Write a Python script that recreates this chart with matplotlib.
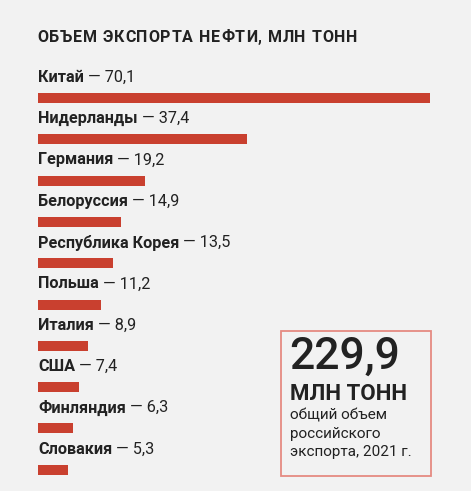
import matplotlib
matplotlib.use("Agg")
import matplotlib.pyplot as plt
from matplotlib.patches import Rectangle

countries = ["Китай", "Нидерланды", "Германия", "Белоруссия", "Республика Корея",
             "Польша", "Италия", "США", "Финляндия", "Словакия"]
values = [70.1, 37.4, 19.2, 14.9, 13.5, 11.2, 8.9, 7.4, 6.3, 5.3]
title = "ОБЪЕМ ЭКСПОРТА НЕФТИ, МЛН ТОНН"
total = "229,9"
total_unit = "МЛН ТОНН"
total_note = "общий объем\nроссийского\nэкспорта, 2021 г."

BG = "#f2f2f2"
RED = "#c9402f"
INK = "#222222"
FONT = ["Roboto", "DejaVu Sans"]
W, H = 471, 491

plt.rcParams["font.family"] = FONT
fig = plt.figure(figsize=(W / 100, H / 100), dpi=100, facecolor=BG)

# bar axes: 38..430 px wide, rows 41.3 px apart, first bar centred at y=98 px
step = 41.3
top = 98 - step
bottom = 98 + step * 9.5
ax = fig.add_axes([38 / W, 1 - bottom / H, (430 - 38) / W, (bottom - top) / H])
ax.set_facecolor("none")
ax.set_xlim(0, max(values))
ax.set_ylim(9.5, -1)
ax.axis("off")

ypos = list(range(len(values)))
ax.barh(ypos, values, height=10 / step, color=RED, align="center")

for i, (name, v) in enumerate(zip(countries, values)):
    t = ax.text(0, i - 0.5, name, fontsize=11.7, fontweight="bold", color=INK,
                va="center", ha="left")
    ax.annotate(" — " + f"{v:.1f}".replace(".", ","), xy=(1, 0.5), xycoords=t,
                va="center", ha="left", fontsize=11.7, color=INK)

# title with letter spacing: glyphs placed one by one
fig.canvas.draw()
r = fig.canvas.get_renderer()
x_px = 37.0
tracking = 0.8
for ch in title:
    t = fig.text(x_px / W, 1 - 42 / H, ch, fontsize=11.5, fontweight="bold",
                 color=INK, va="baseline", ha="left")
    w = t.get_window_extent(r).width if ch != " " else 4.5
    x_px += w + tracking

# summary box
fig.patches.append(Rectangle((281 / W, 1 - 476 / H), 150 / W, 145 / H,
                             transform=fig.transFigure, fill=False,
                             edgecolor="#e58a82", lw=1.3))
fig.text(289 / W, 1 - 357 / H, total, fontsize=32, fontweight="medium",
         color=INK, va="center", ha="left")
fig.text(290 / W, 1 - 394 / H, total_unit, fontsize=16, fontweight="bold",
         color=INK, va="center", ha="left")
fig.text(290 / W, 1 - 409 / H, total_note, fontsize=11, color=INK,
         va="top", ha="left", linespacing=1.38)

fig.savefig("out.png", dpi=100, facecolor=BG)
